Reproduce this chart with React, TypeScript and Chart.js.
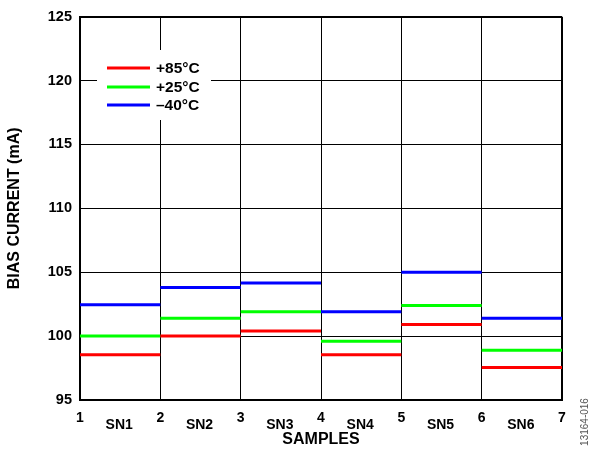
import React, { useEffect, useRef } from "react";
import { Chart, registerables } from "chart.js";

Chart.register(...registerables);

const sampleNames = ["SN1", "SN2", "SN3", "SN4", "SN5", "SN6"];
const xTickValues = [1, 2, 3, 4, 5, 6, 7];
const yMin = 95;
const yMax = 125;
const yStep = 5;
const hot85 = [98.55, 100.0, 100.4, 98.55, 100.9, 97.55];
const room25 = [100.0, 101.4, 101.9, 99.6, 102.4, 98.9];
const cold40 = [102.45, 103.8, 104.15, 101.9, 105.0, 101.4];
const seriesLabels = ["+85°C", "+25°C", "\u201340°C"];
const seriesColors = ["#ff0000", "#00ff00", "#0000ff"];
const xTitle = "SAMPLES";
const yTitle = "BIAS CURRENT (mA)";
const figureCode = "13164-016";

const FONT = "'Liberation Sans', Arial, Helvetica, sans-serif";

function steps(values: number[]) {
  const pts: { x: number; y: number | null }[] = [];
  values.forEach((v, i) => {
    const x0 = xTickValues[i];
    const x1 = xTickValues[i + 1];
    pts.push({ x: x0, y: v }, { x: x1, y: v });
    if (i < values.length - 1) pts.push({ x: x1, y: null });
  });
  return pts;
}

const extrasPlugin = {
  id: "extras",
  beforeDatasetsDraw(chart: any) {
    const ctx = chart.ctx;
    ctx.save();
    ctx.fillStyle = "#ffffff";
    ctx.fillRect(97, 50, 114, 70);
    const ys = [68, 87, 105];
    seriesLabels.forEach((lab, i) => {
      ctx.strokeStyle = seriesColors[i];
      ctx.lineWidth = 3;
      ctx.beginPath();
      ctx.moveTo(107, ys[i]);
      ctx.lineTo(150, ys[i]);
      ctx.stroke();
      ctx.fillStyle = "#000";
      ctx.font = `bold 15.5px ${FONT}`;
      ctx.textAlign = "left";
      ctx.textBaseline = "middle";
      ctx.fillText(lab, 156, ys[i] + 1);
    });
    ctx.restore();
  },
  afterDraw(chart: any) {
    const ctx = chart.ctx;
    const xs = chart.scales.x;
    ctx.save();
    ctx.fillStyle = "#000";
    ctx.font = `bold 14px ${FONT}`;
    ctx.textAlign = "center";
    ctx.textBaseline = "middle";
    sampleNames.forEach((n, i) => {
      const x = xs.getPixelForValue(xTickValues[i] + 0.5);
      ctx.fillText(n, x - 1, 425);
    });
    ctx.translate(585, 422);
    ctx.rotate(-Math.PI / 2);
    ctx.font = `10px ${FONT}`;
    ctx.fillStyle = "#555";
    ctx.fillText(figureCode, 0, 0);
    ctx.restore();
  },
};

export default function App() {
  const ref = useRef<HTMLCanvasElement | null>(null);
  useEffect(() => {
    document.body.style.margin = "0";
    if (!ref.current) return;
    const edgeWidth = (c: any, edge: number) =>
      c.tick && c.tick.value === edge ? 2 : 1;
    const chart = new Chart(ref.current, {
      type: "line",
      data: {
        datasets: [hot85, room25, cold40].map((vals, i) => ({
          label: seriesLabels[i],
          data: steps(vals),
          borderColor: seriesColors[i],
          backgroundColor: seriesColors[i],
          borderWidth: 3,
          pointRadius: 0,
          spanGaps: false,
          tension: 0,
          fill: false,
        })),
      },
      options: {
        animation: false,
        responsive: false,
        events: [],
        layout: { padding: { left: 0, right: 30, top: 16, bottom: 0 } },
        plugins: { legend: { display: false }, tooltip: { enabled: false } },
        scales: {
          x: {
            type: "linear",
            min: 1,
            max: 7,
            afterFit: (s: any) => {
              s.height = 50;
            },
            ticks: {
              stepSize: 1,
              color: "#000",
              font: { family: FONT, size: 14, weight: "bold" },
              padding: 10,
              maxRotation: 0,
              callback: (v: any) => String(v),
            },
            grid: {
              color: "#000",
              lineWidth: (c: any) => edgeWidth(c, 7),
              drawTicks: false,
            },
            border: { color: "#000", width: 2 },
            title: {
              display: true,
              text: xTitle,
              color: "#000",
              font: { family: FONT, size: 16, weight: "bold" },
              padding: { top: 0, bottom: 1 },
            },
          },
          y: {
            min: yMin,
            max: yMax,
            afterFit: (s: any) => {
              s.width = 80;
            },
            ticks: {
              stepSize: yStep,
              color: "#000",
              font: { family: FONT, size: 14.5, weight: "bold" },
              padding: 8,
            },
            grid: {
              color: "#000",
              lineWidth: (c: any) => edgeWidth(c, yMax),
              drawTicks: false,
            },
            border: { color: "#000", width: 2 },
            title: {
              display: true,
              text: yTitle,
              color: "#000",
              font: { family: FONT, size: 16, weight: "bold" },
              padding: { top: 5, bottom: 0 },
            },
          },
        },
      },
      plugins: [extrasPlugin],
    } as any);
    return () => chart.destroy();
  }, []);
  return (
    <div style={{ width: 592, height: 450 }}>
      <canvas ref={ref} width={592} height={450} />
    </div>
  );
}
